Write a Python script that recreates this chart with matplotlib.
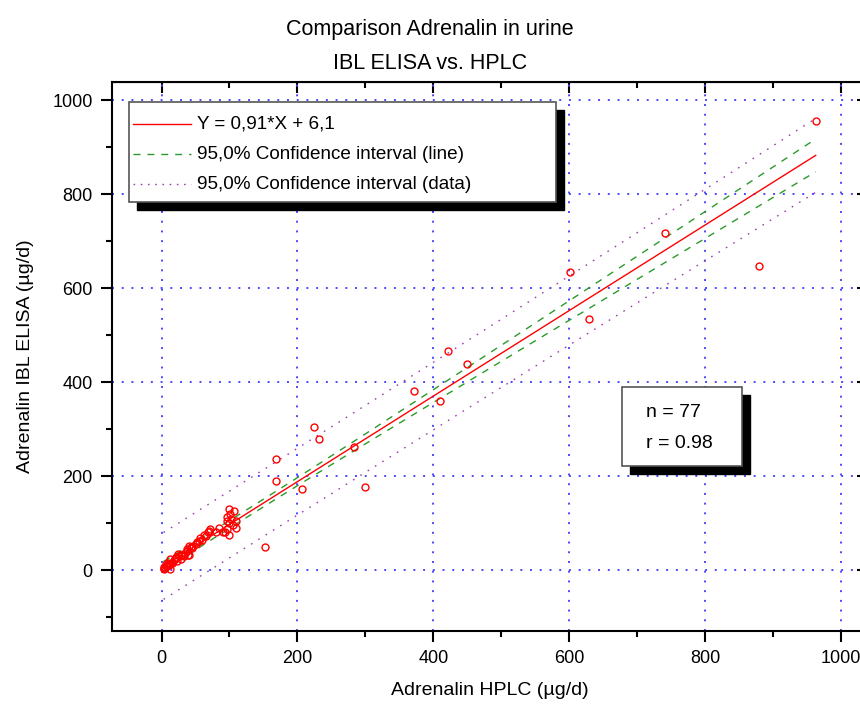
import numpy as np
import matplotlib
matplotlib.use('Agg')
import matplotlib.pyplot as plt
from matplotlib.patches import Rectangle
from matplotlib.ticker import MultipleLocator

plt.rcParams['font.family'] = ['Liberation Sans', 'DejaVu Sans']

# Adrenalin (ug/d): HPLC vs IBL ELISA
hplc = [963, 741, 880, 601, 630, 421, 450, 372, 410, 225, 232, 283, 168, 169, 207, 300, 152,
        99, 106, 101, 97, 102, 109, 97, 99, 110, 97, 91, 94, 99, 72, 70, 68, 65, 62,
        60, 57, 55, 52, 47, 45, 40, 43, 38, 38, 40, 39, 35, 33, 30, 28, 25, 24, 28, 21,
        21, 23, 18, 16, 16, 13, 13, 11, 11, 8, 7, 5, 3, 3, 12, 3, 6, 9, 50, 80, 85, 105]
elisa = [955, 718, 648, 635, 535, 466, 439, 382, 360, 305, 279, 262, 236, 190, 173, 177, 50,
         129, 126, 119, 112, 108, 104, 104, 101, 90, 87, 82, 80, 75, 88, 83, 80, 72, 74,
         65, 69, 62, 60, 51, 48, 51, 50, 44, 41, 33, 31, 37, 30, 33, 33, 30, 35, 23, 28,
         26, 19, 21, 16, 14, 23, 12, 12, 11, 9, 8, 5, 7, 5, 2, 2, 12, 15, 55, 82, 90, 95]

slope = 0.91
intercept = 6.1
n_text = 'n = 77'
r_text = 'r = 0.98'
t_val = 1.992  # t(0.975, 75)

x = np.array(hplc, dtype=float)
y = np.array(elisa, dtype=float)
n = len(x)
xm = x.mean()
sxx = ((x - xm) ** 2).sum()
s = np.sqrt(((y - (slope * x + intercept)) ** 2).sum() / (n - 2))

xs = np.linspace(x.min(), x.max(), 200)
yfit = slope * xs + intercept
ci_line = t_val * s * np.sqrt(1.0 / n + (xs - xm) ** 2 / sxx)
ci_data = t_val * s * np.sqrt(1 + 1.0 / n + (xs - xm) ** 2 / sxx)

fig = plt.figure(figsize=(8.6, 7.08), dpi=100)
ax = fig.add_axes([0.1302, 0.1092, 0.8791, 0.7746])

ax.plot(xs, yfit, color='#ff0000', lw=1.0, zorder=3)
ax.plot(xs, yfit + ci_line, color='#2a9a2a', lw=1.0, ls=(0, (5, 5)), zorder=3)
ax.plot(xs, yfit - ci_line, color='#2a9a2a', lw=1.0, ls=(0, (5, 5)), zorder=3)
ax.plot(xs, yfit + ci_data, color='#a040b0', lw=1.0, ls=(0, (1.2, 5)), zorder=3)
ax.plot(xs, yfit - ci_data, color='#a040b0', lw=1.0, ls=(0, (1.2, 5)), zorder=3)
ax.plot(x, y, 'o', mfc='none', mec='#ff0000', ms=5, mew=1.0, zorder=4)

ax.set_xlim(-73, 1040)
ax.set_ylim(-129, 1038)
ax.xaxis.set_major_locator(MultipleLocator(200))
ax.xaxis.set_minor_locator(MultipleLocator(100))
ax.yaxis.set_major_locator(MultipleLocator(200))
ax.yaxis.set_minor_locator(MultipleLocator(100))
ax.grid(True, which='major', color='#4a4aff', ls=(0, (1, 4)), lw=1.4)
ax.set_axisbelow(True)

for sp in ax.spines.values():
    sp.set_linewidth(1.5)
ax.tick_params(which='major', direction='out', length=8, width=1.5, labelsize=13, pad=6)
ax.tick_params(which='minor', direction='out', length=4.5, width=1.5)

top = ax.secondary_xaxis('top')
top.xaxis.set_major_locator(MultipleLocator(200))
top.xaxis.set_minor_locator(MultipleLocator(100))
top.tick_params(which='major', direction='in', length=8, width=1.5, labeltop=False)
top.tick_params(which='minor', direction='in', length=4.5, width=1.5)
right = ax.secondary_yaxis('right')
right.yaxis.set_major_locator(MultipleLocator(200))
right.yaxis.set_minor_locator(MultipleLocator(100))
right.tick_params(which='major', direction='in', length=8, width=1.5, labelright=False)
right.tick_params(which='minor', direction='in', length=4.5, width=1.5)

ax.set_xlabel('Adrenalin HPLC (µg/d)', fontsize=14, labelpad=11)
ax.set_ylabel('Adrenalin IBL ELISA (µg/d)', fontsize=14, labelpad=13)
fig.text(0.5, 0.958, 'Comparison Adrenalin in urine', ha='center', va='center', fontsize=15.5)
fig.text(0.5, 0.91, 'IBL ELISA vs. HPLC', ha='center', va='center', fontsize=15.5)

# legend box with black drop shadow
tr = ax.transAxes
dx, dy = 8 / (0.8791 * 860), 8 / (0.7746 * 708)
lx0, lx1, ly0, ly1 = 0.0227, 0.587, 0.7814, 0.9636
ax.add_patch(Rectangle((lx0 + dx, ly0 - dy), lx1 - lx0, ly1 - ly0, transform=tr,
                       fc='black', ec='black', zorder=6))
ax.add_patch(Rectangle((lx0, ly0), lx1 - lx0, ly1 - ly0, transform=tr,
                       fc='white', ec='#555555', lw=1.2, zorder=7))
rows = [('Y = 0,91*X + 6,1', '#ff0000', '-'),
        ('95,0% Confidence interval (line)', '#2a9a2a', (0, (5, 5))),
        ('95,0% Confidence interval (data)', '#a040b0', (0, (1.2, 4)))]
for (lab, col, ls), ry in zip(rows, [0.9235, 0.8689, 0.8142]):
    ax.plot([0.0284, 0.104], [ry, ry], transform=tr, color=col, ls=ls, lw=1.0, zorder=8,
            clip_on=False)
    ax.text(0.112, ry, lab, transform=tr, fontsize=13.6, va='center', ha='left', zorder=8)

# n / r box
bx0, bx1, by0, by1 = 0.675, 0.833, 0.3005, 0.444
ax.add_patch(Rectangle((bx0 + dx, by0 - dy), bx1 - bx0, by1 - by0, transform=tr,
                       fc='black', ec='black', zorder=6))
ax.add_patch(Rectangle((bx0, by0), bx1 - bx0, by1 - by0, transform=tr,
                       fc='white', ec='#555555', lw=1.2, zorder=7))
ax.text(0.706, 0.397, n_text, transform=tr, fontsize=14, va='center', ha='left', zorder=8)
ax.text(0.706, 0.342, r_text, transform=tr, fontsize=14, va='center', ha='left', zorder=8)

fig.savefig('out.png', dpi=100)
